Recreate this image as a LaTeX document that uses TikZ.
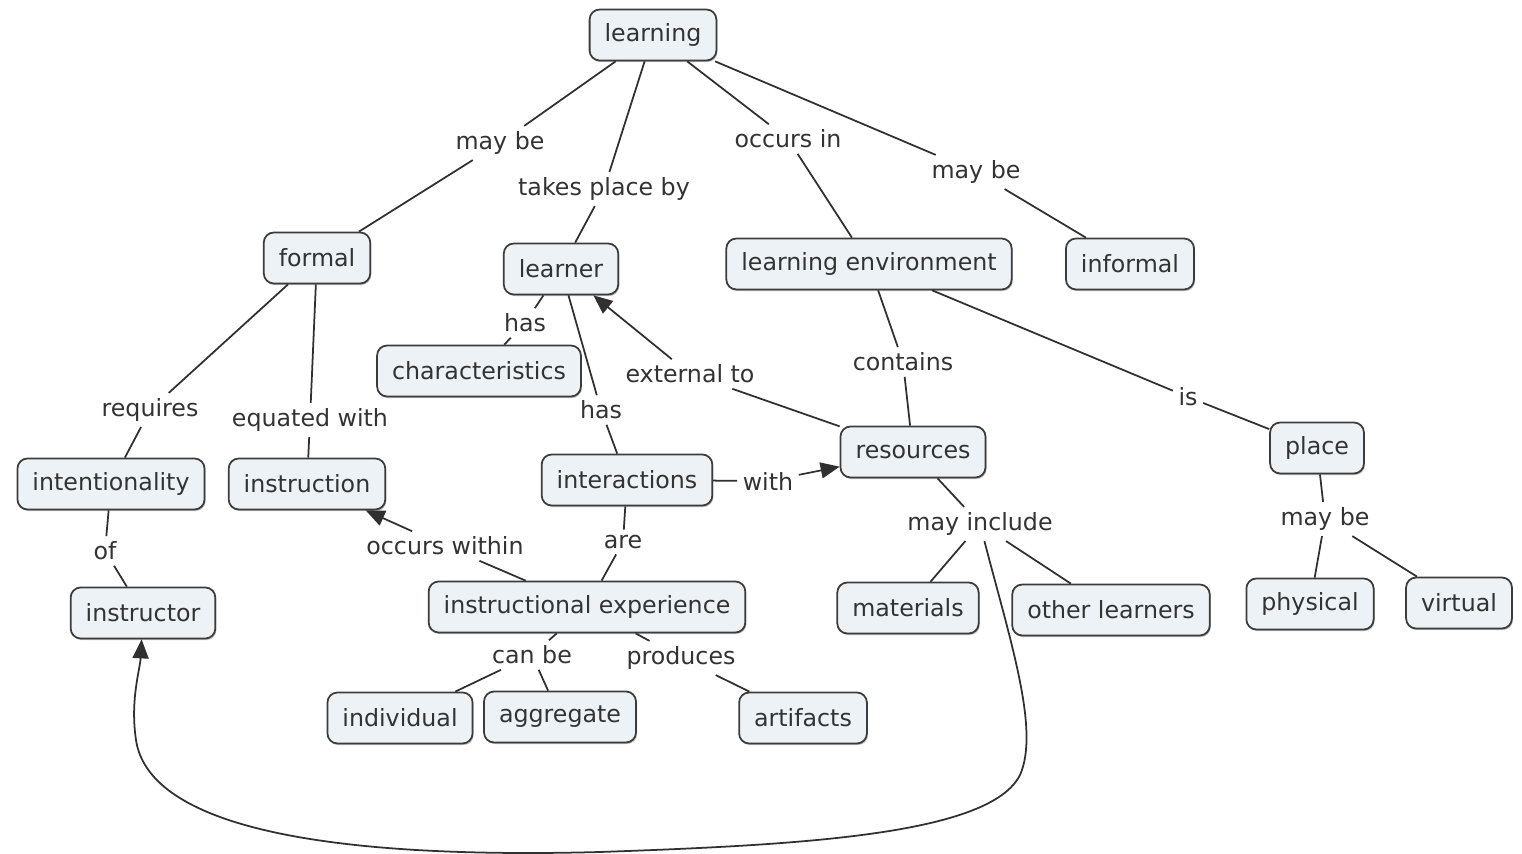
\documentclass[tikz,border=0pt]{standalone}
\usepackage{fontspec}
\setmainfont{DejaVu Sans}
\usetikzlibrary{arrows.meta,shadows}
\definecolor{nodefill}{HTML}{EDF2F6}
\definecolor{bordercol}{HTML}{3C3C3C}
\definecolor{textcol}{HTML}{333333}
\definecolor{linecol}{HTML}{303030}
\begin{document}
\begin{tikzpicture}[x=0.02cm,y=-0.02cm,
  every node/.style={font=\fontsize{13.5}{15.5}\selectfont, text=textcol},
  box/.style={draw=bordercol, line width=1pt, fill=nodefill, rounded corners=0.2cm,
    inner xsep=0.3cm, minimum height=1.02cm,
    drop shadow={shadow xshift=0.6pt, shadow yshift=-0.9pt, fill=black, opacity=0.25}},
  lbl/.style={inner sep=3pt},
  conn/.style={draw=linecol, line width=1pt},
  arr/.style={conn, -{Triangle[length=0.38cm,width=0.32cm]}}]
\useasboundingbox[fill=white] (0,0) rectangle (1522,854);

% concept nodes
\node[box] (learning) at (653,35) {learning};
\node[box] (formal) at (317,258) {formal};
\node[box] (learner) at (561,269) {learner};
\node[box] (le) at (869,264) {learning environment};
\node[box] (informal) at (1130,264) {informal};
\node[box] (char) at (479,371) {characteristics};
\node[box] (resources) at (913,452) {resources};
\node[box] (place) at (1317,448) {place};
\node[box] (intent) at (111,484) {intentionality};
\node[box] (instruction) at (307,484) {instruction};
\node[box] (interactions) at (627,480) {interactions};
\node[box] (instructor) at (143,613) {instructor};
\node[box] (ie) at (587,607) {instructional experience};
\node[box] (materials) at (908,608) {materials};
\node[box] (others) at (1111,610) {other learners};
\node[box] (physical) at (1310,604) {physical};
\node[box] (virtual) at (1459,603) {virtual};
\node[box] (individual) at (400,718) {individual};
\node[box] (aggregate) at (560,717) {aggregate};
\node[box] (artifacts) at (803,718) {artifacts};

% linking phrases
\node[lbl] (l1) at (500,143) {may be};
\node[lbl] (l2) at (604,189) {takes place by};
\node[lbl] (l3) at (788,139) {occurs in};
\node[lbl] (l4) at (976,172) {may be};
\node[lbl] (l5) at (525,323) {has};
\node[lbl] (l6) at (601,410) {has};
\node[lbl] (l7) at (690,374) {external to};
\node[lbl] (l8) at (903,362) {contains};
\node[lbl] (l9) at (1188,397) {is};
\node[lbl] (l10) at (150,410) {requires};
\node[lbl] (l11) at (310,420) {equated with};
\node[lbl] (l12) at (105,551) {of};
\node[lbl] (l13) at (768,481) {with};
\node[lbl] (l14) at (445,546) {occurs within};
\node[lbl] (l15) at (623,542) {are};
\node[lbl] (l16) at (980,524) {may include};
\node[lbl] (l17) at (1325,519) {may be};
\node[lbl] (l18) at (532,655) {can be};
\node[lbl] (l19) at (681,658) {produces};

% connectors
\draw[conn] (learning) -- (l1);
\draw[conn] (l1) -- (formal);
\draw[conn] (learning) -- (l2);
\draw[conn] (l2) -- (learner);
\draw[conn] (learning) -- (l3);
\draw[conn] (l3) -- (le);
\draw[conn] (learning) -- (l4);
\draw[conn] (l4) -- (informal);
\draw[conn] (learner) -- (l5);
\draw[conn] (l5) -- (char);
\draw[conn] (learner) -- (l6);
\draw[conn] (l6) -- (interactions);
\draw[conn] (resources) -- (l7);
\draw[arr] (l7) -- (learner);
\draw[conn] (le) -- (l8);
\draw[conn] (l8) -- (resources);
\draw[conn] (le) -- (l9);
\draw[conn] (l9) -- (place);
\draw[conn] (formal) -- (l10);
\draw[conn] (l10) -- (intent);
\draw[conn] (formal) -- (l11);
\draw[conn] (l11) -- (instruction);
\draw[conn] (intent) -- (l12);
\draw[conn] (l12) -- (instructor);
\draw[conn] (interactions) -- (l13);
\draw[arr] (l13) -- (resources);
\draw[conn] (ie) -- (l14);
\draw[arr] (l14) -- (instruction);
\draw[conn] (interactions) -- (l15);
\draw[conn] (l15) -- (ie);
\draw[conn] (resources) -- (l16);
\draw[conn] (l16) -- (materials);
\draw[conn] (l16) -- (others);
\draw[conn] (place) -- (l17);
\draw[conn] (l17) -- (physical);
\draw[conn] (l17) -- (virtual);
\draw[conn] (ie) -- (l18);
\draw[conn] (l18) -- (individual);
\draw[conn] (l18) -- (aggregate);
\draw[conn] (ie) -- (l19);
\draw[conn] (l19) -- (artifacts);
\draw[arr] (l16) .. controls (1010,640) and (1040,730) .. (1020,775)
  .. controls (990,835) and (800,845) .. (600,852)
  .. controls (300,860) and (148,820) .. (136,740)
  .. controls (130,700) and (140,670) .. (instructor);
\end{tikzpicture}
\end{document}
